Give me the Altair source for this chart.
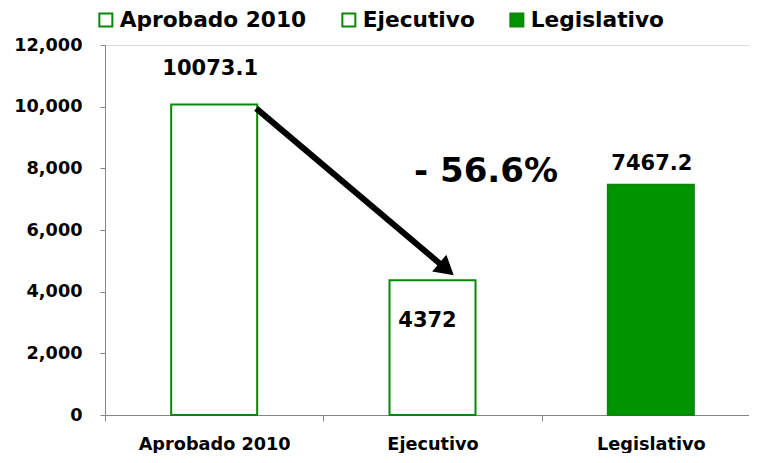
import altair as alt
import pandas as pd

# ---- data ----
categories = ["Aprobado 2010", "Ejecutivo", "Legislativo"]
values = [10073.1, 4372, 7467.2]
value_labels = ["10073.1", "4372", "7467.2"]
y_ticks = [0, 2000, 4000, 6000, 8000, 10000, 12000]

# ---- style ----
GREEN = "#009400"
EDGE = "#0a880a"
AXIS = "#868686"
FONT = "DejaVu Sans"

df = pd.DataFrame({"cat": categories, "val": values, "lab": value_labels})
arrow_df = pd.DataFrame({"cat": [categories[0]], "val": [values[0]],
                         "cat2": [categories[1]], "val2": [values[1]]})
pct = (1 - values[1] / values[0]) * 100
note_df = pd.DataFrame({"t": [f"- {pct:.1f}%"]})

# band range runs a little past the drawn width, like the original axis running off the page
x_scale = alt.Scale(domain=categories, paddingInner=0, paddingOuter=0, range=[0, 655])
y_scale = alt.Scale(domain=[0, 12000], nice=False)

x_enc = alt.X("cat:N", sort=categories, scale=x_scale, title=None,
              axis=alt.Axis(title=None, labelAngle=0, tickBand="extent", tickSize=6,
                            labelPadding=14, labelFontSize=17.7, labelFontWeight="bold",
                            labelColor="black", labelFont=FONT, domainColor=AXIS,
                            tickColor=AXIS, domainWidth=1, tickWidth=1))
y_enc = alt.Y("val:Q", scale=y_scale, title=None,
              axis=alt.Axis(title=None, values=y_ticks, format=",d", grid=False, tickSize=5,
                            labelPadding=18, labelFontSize=17.7, labelFontWeight="bold",
                            labelColor="black", labelFont=FONT, domainColor=AXIS,
                            tickColor=AXIS, domainWidth=1, tickWidth=1))

bars = alt.Chart(df).mark_bar(size=86, stroke=EDGE, strokeWidth=2).encode(
    x=x_enc,
    y=y_enc,
    fill=alt.Fill("cat:N", sort=categories,
                  scale=alt.Scale(domain=categories, range=["white", "white", GREEN]),
                  legend=alt.Legend(title=None, orient="none", legendX=-10, legendY=-36,
                                    direction="horizontal", symbolType="square",
                                    symbolSize=169, symbolStrokeColor=EDGE,
                                    symbolStrokeWidth=2, symbolOpacity=1,
                                    labelFontSize=21.7, labelFont=FONT, labelFontWeight="bold",
                                    labelColor="black", labelOffset=3, columnPadding=31,
                                    padding=0, labelLimit=0)),
)


def value_text(cat, dx, dy):
    return alt.Chart(df).transform_filter(alt.datum.cat == cat).mark_text(
        dx=dx, dy=dy, fontSize=21, fontWeight="bold", font=FONT,
        baseline="alphabetic", align="center", color="black"
    ).encode(
        x=alt.X("cat:N", sort=categories, title=None),
        y=alt.Y("val:Q", title=None),
        text="lab:N",
    )


lab1 = value_text(categories[0], -4, -29)
lab2 = value_text(categories[1], -5, 47)
lab3 = value_text(categories[2], 1, -15)

arrow_line = alt.Chart(arrow_df).mark_rule(
    strokeWidth=6, color="black", strokeCap="butt",
    xOffset=42, yOffset=4, x2Offset=14, y2Offset=-11
).encode(
    x=alt.X("cat:N", sort=categories, title=None, bandPosition=0.5),
    y=alt.Y("val:Q", title=None),
    x2=alt.X2("cat2:N", bandPosition=0.5),
    y2=alt.Y2("val2:Q"),
)

arrow_head = alt.Chart(arrow_df).mark_point(
    shape="triangle-up", size=480, filled=True, color="black", opacity=1,
    angle=130.4, xOffset=14, yOffset=-11
).encode(
    x=alt.X("cat2:N", sort=categories, title=None),
    y=alt.Y("val2:Q", title=None),
)

note = alt.Chart(note_df).mark_text(
    fontSize=34, fontWeight="bold", font=FONT, baseline="alphabetic",
    align="center", color="black"
).encode(x=alt.value(381), y=alt.value(137.3), text="t:N")

chart = alt.layer(bars, lab1, lab2, lab3, arrow_line, arrow_head, note).properties(
    width=644, height=370,
    padding={"left": 97, "top": 37, "right": 0, "bottom": 38},
    autosize=alt.AutoSizeParams(type="none"),
).configure_view(strokeWidth=0).configure(font=FONT)

chart.save("out.html", embed_options={"renderer": "svg", "actions": False})
